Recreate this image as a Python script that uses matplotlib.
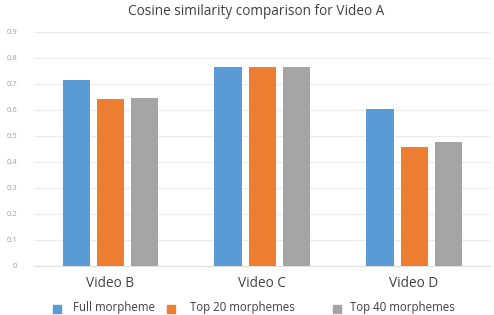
"""
Cosine similarity comparison for Video A, grouped bar chart.
"""

import numpy as np
import matplotlib
matplotlib.use("Agg")
import matplotlib.pyplot as plt
from matplotlib.patches import Rectangle

PLOT_FILE = "out.png"

# Data
CATEGORIES = ["Video B", "Video C", "Video D"]
SERIES = ["Full morpheme", "Top 20 morphemes", "Top 40 morphemes"]
FULL = [0.713, 0.763, 0.604]
TOP20 = [0.641, 0.763, 0.456]
TOP40 = [0.646, 0.763, 0.477]
Y_TICKS = [0, 0.1, 0.2, 0.3, 0.4, 0.5, 0.6, 0.7, 0.8, 0.9]
Y_TICK_LABELS = ["0", "0.1", "0.2", "0.3", "0.4", "0.5", "0.6", "0.7", "0.8", "0.9"]

COLORS = ["#5B9BD5", "#ED7D31", "#A5A5A5"]

plt.rcParams["font.family"] = ["Open Sans", "DejaVu Sans"]


def plot_chart():
    fig = plt.figure(figsize=(4.94, 3.15), dpi=100)
    ax = fig.add_axes([0.069, 0.156, 0.923, 0.743])

    x = np.arange(len(CATEGORIES))
    width = 0.178
    step = 0.224
    for i, (vals, color) in enumerate(zip([FULL, TOP20, TOP40], COLORS)):
        ax.bar(x + (i - 1) * step, vals, width, color=color, zorder=3)

    ax.set_xlim(-0.5, 2.5)
    ax.set_ylim(0, 0.9)
    ax.set_yticks(Y_TICKS)
    ax.set_yticklabels(Y_TICK_LABELS, fontsize=5.5, color="#A0A0A0")
    ax.set_xticks(x)
    ax.set_xticklabels(CATEGORIES, fontsize=9.8, color="#404040")
    ax.tick_params(axis="both", length=0)
    ax.tick_params(axis="y", pad=12)
    ax.tick_params(axis="x", pad=7)
    ax.grid(axis="y", color="#EBEBEB", linewidth=0.8, zorder=0)
    for side in ["top", "right", "left"]:
        ax.spines[side].set_visible(False)
    ax.spines["bottom"].set_color("#E0E0E0")
    ax.spines["bottom"].set_linewidth(0.8)

    fig.text(0.518, 0.962, "Cosine similarity comparison for Video A",
             ha="center", va="center", fontsize=9.8, color="#404040")

    # legend, laid out by hand
    square_x = [0.107, 0.338, 0.674]
    text_x = [0.148, 0.385, 0.708]
    for sx, tx, label, color in zip(square_x, text_x, SERIES, COLORS):
        fig.patches.append(Rectangle((sx, 0.005), 0.016, 0.026, color=color,
                                     transform=fig.transFigure))
        fig.text(tx, 0.004, label, ha="left", va="bottom",
                 fontsize=8.3, color="#404040")

    fig.savefig(PLOT_FILE, dpi=100)


if __name__ == "__main__":
    plot_chart()
